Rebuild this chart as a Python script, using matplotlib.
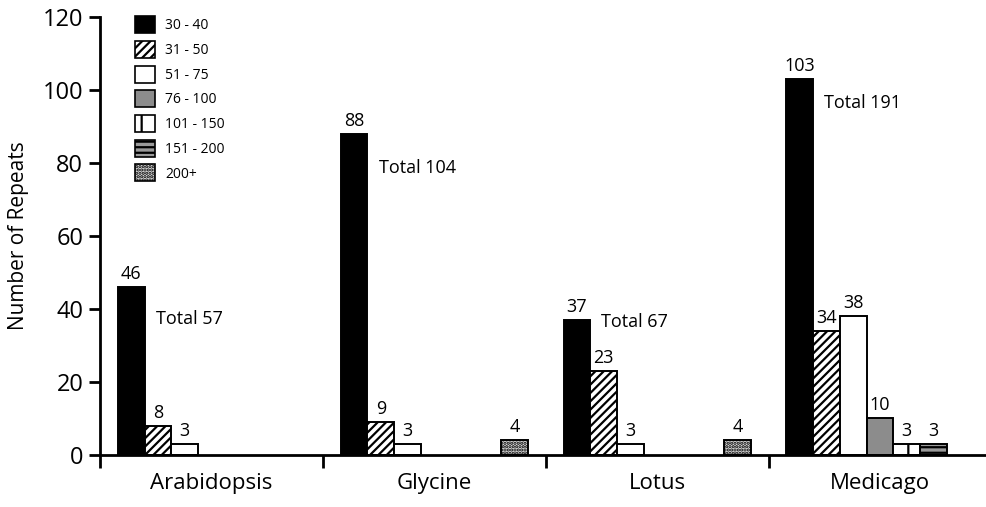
import numpy as np
import matplotlib.pyplot as plt
from matplotlib.patches import Patch

plt.rcParams['font.family'] = ['Open Sans', 'DejaVu Sans']
plt.rcParams['hatch.linewidth'] = 1.6

species = ['Arabidopsis', 'Glycine', 'Lotus', 'Medicago']
size_classes = ['30 - 40', '31 - 50', '51 - 75', '76 - 100', '101 - 150', '151 - 200', '200+']

# repeat counts per size class, one row per species
arabidopsis = [46, 8, 3, 0, 0, 0, 0]
glycine = [88, 9, 3, 0, 0, 0, 4]
lotus = [37, 23, 3, 0, 0, 0, 4]
medicago = [103, 34, 38, 10, 3, 3, 0]
counts = np.array([arabidopsis, glycine, lotus, medicago])
totals = counts.sum(axis=1)

# height at which each "Total" note sits
total_label_y = [37.3, 78.6, 36.4, 96.4]

styles = [
    dict(facecolor='black', hatch=None),
    dict(facecolor='white', hatch='////'),
    dict(facecolor='white', hatch=None),
    dict(facecolor='#8c8c8c', hatch=None),
    dict(facecolor='white', hatch='|'),
    dict(facecolor='#9a9a9a', hatch='---'),
    dict(facecolor='#dcdcdc', hatch='.....'),
]

fig = plt.figure(figsize=(9.87, 5.07), dpi=100)
ax = fig.add_axes([0.1013, 0.1026, 0.8987, 0.864])

w = 0.12
x = np.arange(len(species))
for j, st in enumerate(styles):
    xs = x + (j - 3) * w
    vals = counts[:, j]
    keep = vals > 0
    ax.bar(xs[keep], vals[keep], width=w, edgecolor='black', linewidth=1.4,
           facecolor=st['facecolor'], hatch=st['hatch'], zorder=2)
    for xi, v in zip(xs[keep], vals[keep]):
        ax.annotate(str(v), (xi, v), xytext=(0, 3), textcoords='offset points',
                    ha='center', va='bottom', fontsize=13)

for xi, t, ty in zip(x, totals, total_label_y):
    ax.text(xi - 0.25, ty, f'Total {t}', ha='left', va='center', fontsize=13)

ax.set_xlim(-0.5, 3.48)
ax.set_ylim(0, 120)
ax.set_yticks(np.arange(0, 121, 20))
ax.tick_params(axis='y', labelsize=17, width=2, length=8, direction='out', pad=4)

ax.set_xticks([-0.5, 0.5, 1.5, 2.5])
ax.set_xticklabels([])
ax.tick_params(axis='x', which='major', width=2, length=9, direction='out')
ax.set_xticks(x, minor=True)
ax.set_xticklabels(species, minor=True, fontsize=16)
ax.tick_params(axis='x', which='minor', length=0, pad=13)

for side in ['top', 'right']:
    ax.spines[side].set_visible(False)
for side in ['left', 'bottom']:
    ax.spines[side].set_linewidth(2)

ax.set_ylabel('Number of Repeats', fontsize=15, labelpad=10)

handles = [Patch(facecolor=st['facecolor'], hatch=st['hatch'], edgecolor='black',
                 linewidth=1.2, label=lab) for st, lab in zip(styles, size_classes)]
ax.legend(handles=handles, loc='upper left', bbox_to_anchor=(0.025, 1.03), frameon=False,
          fontsize=10, handlelength=1.5, handleheight=1.5, labelspacing=0.55,
          handletextpad=0.7)

fig.savefig('out.png', dpi=100)
